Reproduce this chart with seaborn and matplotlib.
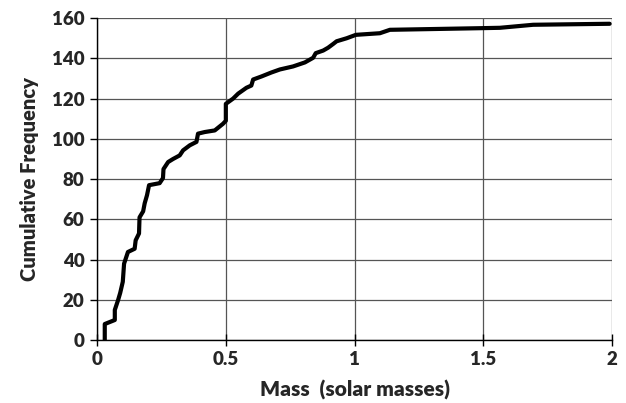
import numpy as np
import pandas as pd
import matplotlib
matplotlib.use("Agg")
import matplotlib.pyplot as plt
import seaborn as sns

# values
mass = [0.03, 0.03, 0.069, 0.069, 0.082, 0.09, 0.10, 0.105, 0.12, 0.146, 0.15,
        0.163, 0.165, 0.179, 0.185, 0.194, 0.202, 0.243, 0.256, 0.258, 0.276,
        0.295, 0.321, 0.334, 0.36, 0.386, 0.392, 0.418, 0.457, 0.489, 0.50,
        0.50, 0.528, 0.548, 0.58, 0.599, 0.606, 0.638, 0.677, 0.71, 0.761,
        0.807, 0.839, 0.849, 0.878, 0.897, 0.917, 0.93, 0.969, 1.005, 1.098,
        1.137, 1.486, 1.564, 1.693, 1.99]
cum_freq = [0, 8, 10, 15, 20, 23.5, 29, 38, 43.8, 45.4, 49.6,
            53, 61, 64, 68, 72, 77, 78, 80.5, 85, 88.5,
            90, 91.8, 94.3, 96.8, 98.5, 102.6, 103.4, 104.2, 107.5, 109,
            117.4, 120, 122.5, 125.4, 126.5, 129.5, 131, 133, 134.5, 136,
            138, 140.3, 142.6, 143.9, 145.3, 147.2, 148.5, 150, 151.7, 152.5,
            154.2, 155, 155.2, 156.7, 157.2]
x_ticks = [0, 0.5, 1, 1.5, 2]
x_labels = ["0", "0.5", "1", "1.5", "2"]
y_ticks = [0, 20, 40, 60, 80, 100, 120, 140, 160]

df = pd.DataFrame({"mass": mass, "cum": cum_freq})

sns.set_style("ticks")
plt.rcParams["font.family"] = ["Lato", "DejaVu Sans"]

fig = plt.figure(figsize=(6.26, 4.03), dpi=100)
ax = fig.add_axes([0.155, 0.156, 0.823, 0.799])

sns.lineplot(data=df, x="mass", y="cum", sort=False, estimator=None,
             color="black", linewidth=3.0, ax=ax, zorder=3)

ax.set_xlim(0, 2)
ax.set_ylim(0, 160)
ax.set_xticks(x_ticks)
ax.set_xticklabels(x_labels)
ax.set_yticks(y_ticks)
ax.grid(True, color="#555555", linewidth=0.9)
for s in ["top", "right"]:
    ax.spines[s].set_visible(False)
for s in ["left", "bottom"]:
    ax.spines[s].set_color("black")
    ax.spines[s].set_linewidth(1.0)
ax.tick_params(axis="y", length=5, width=1, color="black",
               labelsize=13.5, pad=4)
ax.tick_params(axis="x", direction="inout", length=9, width=1, color="black",
               labelsize=13.5, pad=3)
for lab in ax.get_xticklabels() + ax.get_yticklabels():
    lab.set_fontweight("heavy")

ax.set_xlabel("Mass  (solar masses)", fontsize=15, fontweight="heavy", labelpad=9)
ax.set_ylabel("Cumulative Frequency", fontsize=14.5, fontweight="heavy", labelpad=9)

fig.savefig("out.png", dpi=100)
